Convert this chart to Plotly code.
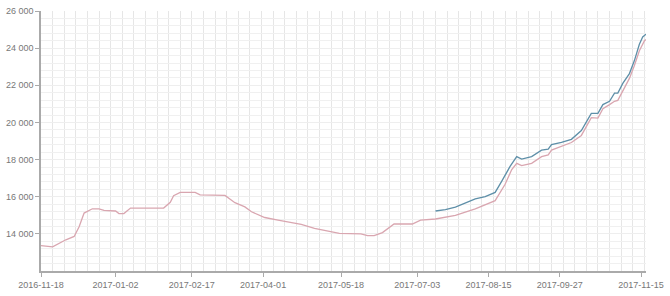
import plotly.graph_objects as go

pink_dates = ["2016-11-18", "2016-11-25", "2016-12-03", "2016-12-08", "2016-12-11", "2016-12-14",
              "2016-12-19", "2016-12-23", "2016-12-26", "2017-01-02", "2017-01-04", "2017-01-07",
              "2017-01-11", "2017-01-31", "2017-02-04", "2017-02-06", "2017-02-10", "2017-02-19",
              "2017-02-22", "2017-03-09", "2017-03-15", "2017-03-21", "2017-03-25", "2017-04-02",
              "2017-04-10", "2017-04-18", "2017-04-24", "2017-05-02", "2017-05-10", "2017-05-17",
              "2017-05-30", "2017-06-03", "2017-06-07", "2017-06-12", "2017-06-19", "2017-06-30",
              "2017-07-05", "2017-07-14", "2017-07-26", "2017-08-07", "2017-08-19", "2017-08-25",
              "2017-08-29", "2017-09-01", "2017-09-04", "2017-09-10", "2017-09-16", "2017-09-20",
              "2017-09-22", "2017-10-04", "2017-10-10", "2017-10-16", "2017-10-20", "2017-10-23",
              "2017-10-27", "2017-10-30", "2017-11-01", "2017-11-04", "2017-11-08", "2017-11-11",
              "2017-11-14", "2017-11-17", "2017-11-18"]
pink_values = [13370, 13300, 13680, 13860, 14380, 15120,
               15350, 15350, 15260, 15230, 15090, 15090,
               15390, 15390, 15700, 16050, 16230, 16230,
               16100, 16070, 15680, 15450, 15190, 14880,
               14740, 14600, 14510, 14300, 14170, 14030,
               14000, 13900, 13900, 14070, 14530, 14530,
               14740, 14800, 15000, 15350, 15790, 16670,
               17460, 17800, 17680, 17800, 18160, 18250,
               18510, 18920, 19300, 20260, 20230, 20740,
               20960, 21140, 21190, 21670, 22370, 23070,
               23860, 24390, 24470]

blue_dates = ["2017-07-14", "2017-07-20", "2017-07-26", "2017-08-01", "2017-08-07", "2017-08-13",
              "2017-08-19", "2017-08-23", "2017-08-28", "2017-09-01", "2017-09-03", "2017-09-04",
              "2017-09-10", "2017-09-16", "2017-09-20", "2017-09-22", "2017-09-28", "2017-10-04",
              "2017-10-10", "2017-10-16", "2017-10-20", "2017-10-23", "2017-10-27", "2017-10-30",
              "2017-11-01", "2017-11-04", "2017-11-08", "2017-11-11", "2017-11-14", "2017-11-16",
              "2017-11-18"]
blue_values = [15230, 15300, 15440, 15650, 15880, 16000,
               16230, 16840, 17630, 18160, 18070, 18030,
               18160, 18510, 18560, 18810, 18920, 19090,
               19560, 20490, 20490, 20960, 21140, 21580,
               21580, 22100, 22630, 23330, 24210, 24600,
               24750]

x_tick_labels = ["2016-11-18", "2017-01-02", "2017-02-17", "2017-04-01", "2017-05-18",
                 "2017-07-03", "2017-08-15", "2017-09-27", "2017-11-15"]

fig = go.Figure()
fig.add_trace(go.Scatter(x=pink_dates, y=pink_values, mode="lines",
                         line=dict(color="#d9a6b0", width=1.3), showlegend=False))
fig.add_trace(go.Scatter(x=blue_dates, y=blue_values, mode="lines",
                         line=dict(color="#5e8fa8", width=1.3), showlegend=False))

fig.update_layout(
    width=670, height=296,
    margin=dict(l=36, r=22, t=6, b=24),
    paper_bgcolor="white", plot_bgcolor="white",
    separators=". ",
    font=dict(family="Liberation Sans, Arial, sans-serif", size=9, color="#777777"),
    xaxis=dict(
        type="date",
        range=["2016-11-18", "2017-11-18"],
        tickvals=x_tick_labels, ticktext=x_tick_labels,
        showgrid=False, zeroline=False,
        showline=True, linecolor="#aaaaaa", linewidth=1.5,
        ticks="outside", ticklen=4, tickcolor="#aaaaaa",
        minor=dict(dtick=7 * 86400000, tick0="2016-11-18", showgrid=True,
                   gridcolor="#e6e6e6", gridwidth=1, ticks=""),
    ),
    yaxis=dict(
        range=[12000, 26000],
        tickvals=[14000, 16000, 18000, 20000, 22000, 24000, 26000],
        tickformat=",d",
        showgrid=True, gridcolor="#eeeeee", zeroline=False,
        showline=True, linecolor="#aaaaaa", linewidth=1.5,
        ticks="outside", ticklen=4, tickcolor="#aaaaaa",
        minor=dict(dtick=400, tick0=12000, showgrid=True, gridcolor="#f0f0f0", ticks=""),
    ),
)

fig.write_html("out.html")
